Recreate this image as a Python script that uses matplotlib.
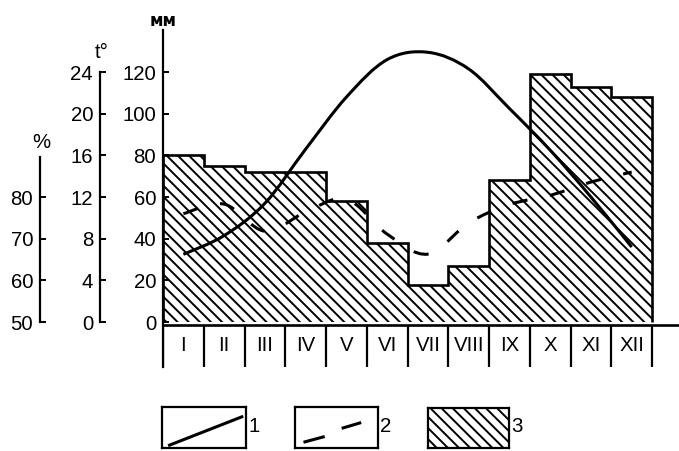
import numpy as np
import matplotlib
matplotlib.use('Agg')
import matplotlib.pyplot as plt
from matplotlib.path import Path
from matplotlib.patches import PathPatch, Rectangle

# данные (месяцы, осадки мм, температура t°, влажность %)
months = ['I', 'II', 'III', 'IV', 'V', 'VI', 'VII', 'VIII', 'IX', 'X', 'XI', 'XII']
precip_mm = [80, 75, 72, 72, 58, 38, 18, 27, 68, 119, 113, 108]
temp_c = [6.5, 8.3, 11.4, 16.6, 21.6, 25.2, 25.9, 24.3, 20.5, 16.5, 12.0, 7.2]
humidity = [76, 78.3, 71.8, 76.4, 79.5, 71.1, 66.3, 73.8, 78.2, 80.4, 83.6, 86.0]

mm_ticks = [0, 20, 40, 60, 80, 100, 120]
t_ticks = [0, 4, 8, 12, 16, 20, 24]
h_ticks = [50, 60, 70, 80]

DPI = 100
W, H = 679, 451
HATCH = '\\' * 3
plt.rcParams['font.family'] = ['Liberation Sans', 'DejaVu Sans']
plt.rcParams['hatch.linewidth'] = 1.4
plt.rcParams['hatch.color'] = 'black'


def px(x0, y0, x1, y1):
    # pixel box -> figure fraction
    return [x0 / W, 1 - y1 / H, (x1 - x0) / W, (y1 - y0) / H]


def smooth_path(xs, ys):
    # кривая Катмулла-Рома через точки
    pts = np.column_stack([xs, ys]).astype(float)
    p = np.vstack([pts[0], pts, pts[-1]])
    verts = [pts[0]]
    codes = [Path.MOVETO]
    for i in range(1, len(p) - 2):
        c1 = p[i] + (p[i + 1] - p[i - 1]) / 6
        c2 = p[i + 1] - (p[i + 2] - p[i]) / 6
        verts += [c1, c2, p[i + 1]]
        codes += [Path.CURVE4] * 3
    return Path(verts, codes)


fig = plt.figure(figsize=(W / DPI, H / DPI), dpi=DPI)
fig.patch.set_facecolor('white')

pos = px(163, 30, 679, 367)
mm_lo, mm_hi = -21.6, 140.2
n = len(months)
xmax = 12.66
FS = 14.7
tick_kw = dict(direction='in', length=4.5, width=1.4, pad=5, labelsize=FS)

ax = fig.add_axes(pos)
ax.set_xlim(0, xmax)
ax.set_ylim(mm_lo, mm_hi)
for s in ['top', 'right', 'bottom']:
    ax.spines[s].set_visible(False)
ax.spines['left'].set_linewidth(1.6)
ax.set_xticks([])
ax.set_yticks(mm_ticks)
ax.tick_params(axis='y', **tick_kw)

edges = np.arange(n + 1)
ax.stairs(precip_mm, edges, baseline=0, fill=True, facecolor='white',
          edgecolor='black', linewidth=0, hatch=HATCH, zorder=1)
ax.stairs(precip_mm, edges, baseline=0, fill=False, color='black',
          linewidth=1.9, zorder=2)

# строка месяцев
ax.axhline(-1.3, 0, 1, color='black', linewidth=1.9, zorder=3)
ax.vlines(edges, mm_lo, -1.3, color='black', linewidth=1.6)
for i, m in enumerate(months):
    ax.text(i + 0.5, -11.5, m, ha='center', va='center', fontsize=FS)

# температура
axt = fig.add_axes(pos, sharex=ax)
axt.patch.set_visible(False)
axt.set_ylim(mm_lo / 5, mm_hi / 5)
for s in ['top', 'right', 'bottom']:
    axt.spines[s].set_visible(False)
axt.spines['left'].set_position(('outward', 63 * 72 / DPI))
axt.spines['left'].set_bounds(0, 24)
axt.spines['left'].set_linewidth(1.6)
axt.set_yticks(t_ticks)
axt.tick_params(axis='x', bottom=False, labelbottom=False)
axt.tick_params(axis='y', **tick_kw)
xc = np.arange(n) + 0.5
axt.add_patch(PathPatch(smooth_path(xc, temp_c), fill=False, edgecolor='black',
                        linewidth=2.2, zorder=4))

# влажность
axh = fig.add_axes(pos, sharex=ax)
axh.patch.set_visible(False)
axh.set_ylim(50 + mm_lo / 2, 50 + mm_hi / 2)
for s in ['top', 'right', 'bottom']:
    axh.spines[s].set_visible(False)
axh.spines['left'].set_position(('outward', 123 * 72 / DPI))
axh.spines['left'].set_bounds(50, 89.6)
axh.spines['left'].set_linewidth(1.6)
axh.set_yticks(h_ticks)
axh.tick_params(axis='x', bottom=False, labelbottom=False)
axh.tick_params(axis='y', **tick_kw)
axh.add_patch(PathPatch(smooth_path(xc, humidity), fill=False, edgecolor='black',
                        linewidth=2.2, linestyle=(0, (5, 7.5)), zorder=4))

# подписи осей
fig.text(163 / W, 1 - 21 / H, 'мм', ha='center', va='center', fontsize=12,
         fontweight='bold', family='DejaVu Sans')
fig.text(102 / W, 1 - 53 / H, 't°', ha='center', va='center', fontsize=FS)
fig.text(41 / W, 1 - 143 / H, '%', ha='center', va='center', fontsize=FS)

# условные обозначения
boxes = [(162, 407, 246, 448), (295, 407, 378, 448), (428, 408, 509, 448)]
for k, b in enumerate(boxes):
    lg = fig.add_axes(px(*b))
    lg.set_xlim(0, 1)
    lg.set_ylim(0, 1)
    lg.set_xticks([])
    lg.set_yticks([])
    for s in lg.spines.values():
        s.set_linewidth(1.6)
    if k == 0:
        lg.plot([0.09, 0.95], [0.07, 0.76], color='black', linewidth=2.2)
    elif k == 1:
        lg.plot([0.12, 0.34], [0.15, 0.27], color='black', linewidth=2.2)
        lg.plot([0.58, 0.78], [0.49, 0.61], color='black', linewidth=2.2)
    else:
        lg.add_patch(Rectangle((0, 0), 1, 1, facecolor='white', edgecolor='black',
                               linewidth=0, hatch=HATCH))
    fig.text((b[2] + 8) / W, 1 - 427 / H, str(k + 1), ha='center', va='center', fontsize=FS)

fig.savefig('out.png', dpi=DPI)
